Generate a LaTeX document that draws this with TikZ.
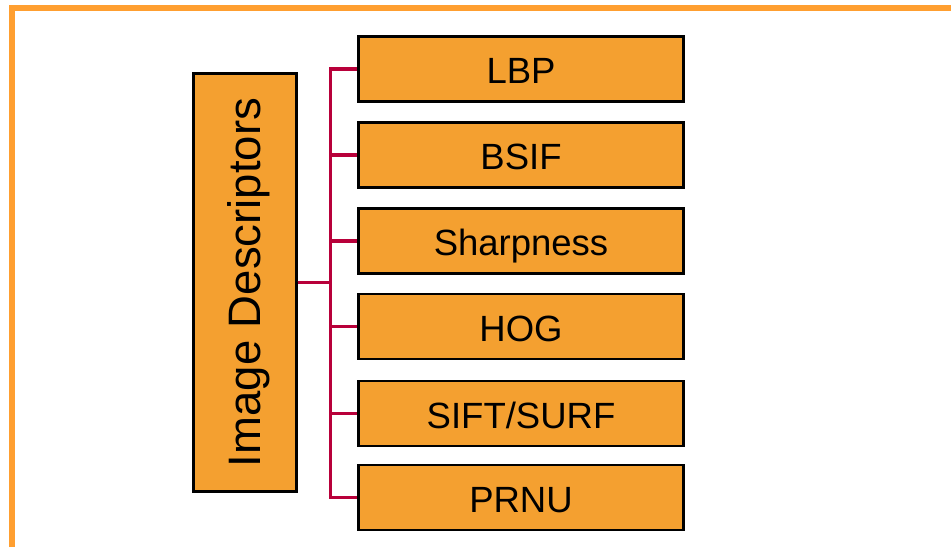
\documentclass[tikz,border=0pt]{standalone}
\usepackage{fontspec}
\setmainfont{Liberation Sans}
\definecolor{boxorange}{HTML}{F4A030}
\definecolor{frameorange}{HTML}{FF9F30}
\definecolor{branchred}{HTML}{B8003A}
\tikzset{
  descbox/.style={draw=black,line width=2.2pt,fill=boxorange,minimum width=325pt,
    minimum height=65pt,inner sep=0pt,text height=29pt,text depth=0pt,
    font=\fontsize{36.5}{36.5}\selectfont},
  mainbox/.style={draw=black,line width=2.2pt,fill=boxorange,minimum width=103pt,
    minimum height=418pt,inner sep=0pt,font=\fontsize{45.5}{45.5}\selectfont},
  branch/.style={branchred,line width=3.2pt}
}

\begin{document}
\begin{tikzpicture}[x=1pt,y=-1pt]
  \useasboundingbox (0,0) rectangle (951,547);
  % frame
  \draw[frameorange,line width=6pt] (12,547) -- (12,8) -- (951,8);
  % main box
  \node[mainbox] (img) at (245,282.5)
    {\rotatebox{90}{\raisebox{-3.5pt}[\height][\depth]{Image Descriptors}}};
  % descriptors
  \foreach \i/\y/\txt in {1/69/LBP,2/155/BSIF,3/241/Sharpness,4/326.5/HOG,5/413.5/{SIFT/SURF},6/497.5/PRNU} {
    \node[descbox] (d\i) at (521,\y) {\txt};
  }
  % branches
  \foreach \i in {1,...,6} {
    \draw[branch] (img.east) -- ++(33,0) |- (d\i.west);
  }
\end{tikzpicture}
\end{document}
